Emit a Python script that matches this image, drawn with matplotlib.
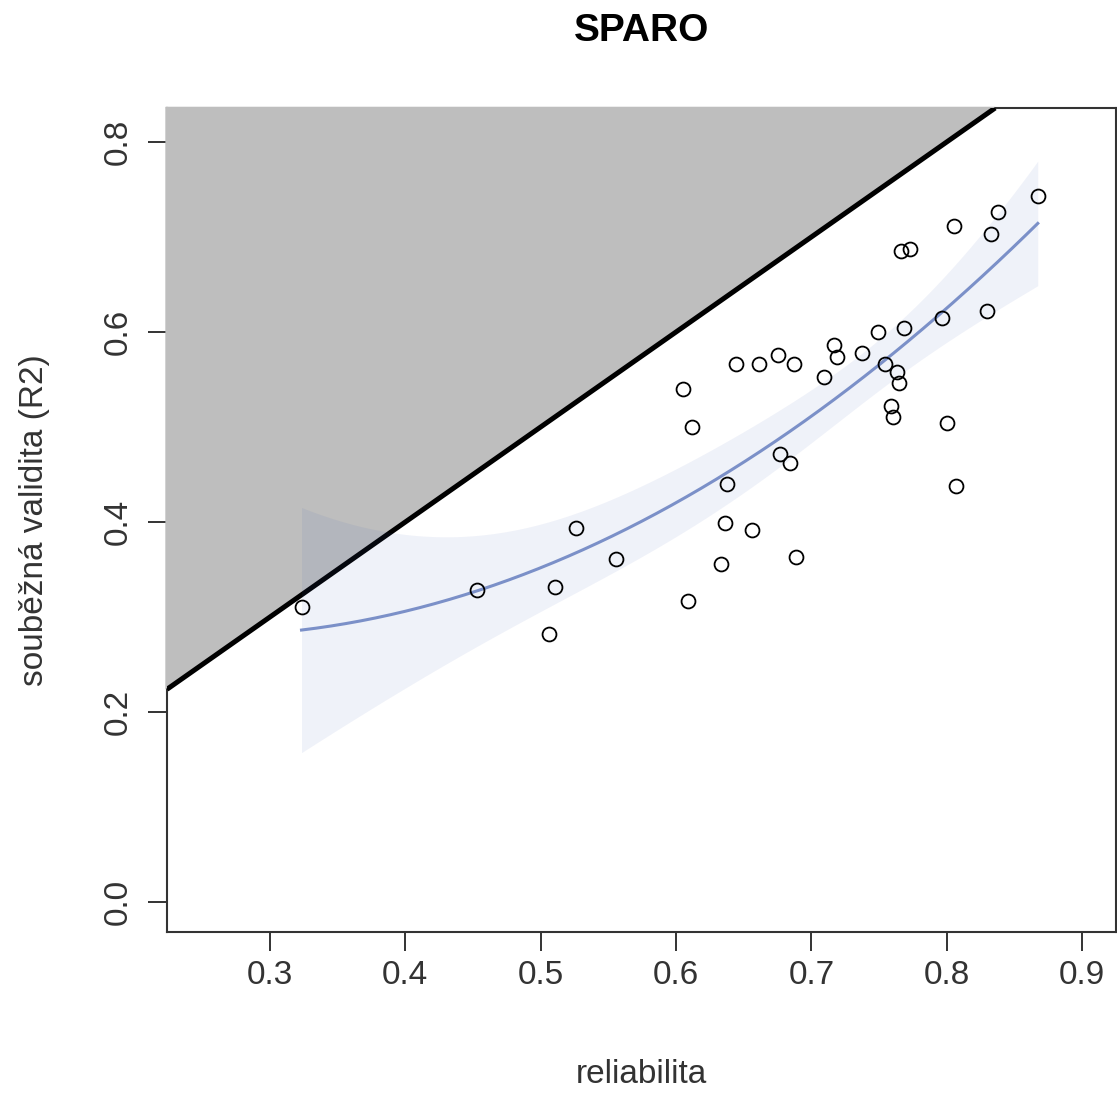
import numpy as np
import matplotlib
matplotlib.use('Agg')
import matplotlib.pyplot as plt

plt.rcParams['font.family'] = ['Liberation Sans', 'DejaVu Sans']

# Data (reliabilita vs. souběžná validita)
reliabilita = [0.3233, 0.4533, 0.5062, 0.5106, 0.5261, 0.5557, 0.6052, 0.6087,
               0.6115, 0.6333, 0.6362, 0.6377, 0.6440, 0.6562, 0.6613, 0.6752,
               0.6765, 0.6842, 0.6872, 0.6890, 0.7091, 0.7171, 0.7186, 0.7374,
               0.7493, 0.7544, 0.7587, 0.7601, 0.7631, 0.7648, 0.7663, 0.7729,
               0.7681, 0.7966, 0.8005, 0.8054, 0.8069, 0.8298, 0.8331, 0.8379,
               0.8673]
validita = [0.3105, 0.3279, 0.2816, 0.3319, 0.3940, 0.3611, 0.5400, 0.3172,
            0.5000, 0.3563, 0.3989, 0.4405, 0.5663, 0.3916, 0.5663, 0.5753,
            0.4716, 0.4624, 0.5663, 0.3632, 0.5529, 0.5863, 0.5732, 0.5779,
            0.5995, 0.5663, 0.5226, 0.5105, 0.5582, 0.5468, 0.6853, 0.6877,
            0.6042, 0.6147, 0.5045, 0.7121, 0.4384, 0.6216, 0.7032, 0.7258,
            0.7432]
x_ticks = [0.3, 0.4, 0.5, 0.6, 0.7, 0.8, 0.9]
y_ticks = [0.0, 0.2, 0.4, 0.6, 0.8]

x = np.array(reliabilita)
y = np.array(validita)

fig = plt.figure(figsize=(11.17, 10.93), dpi=100)
ax = fig.add_axes([0.1495, 0.1473, 0.8496, 0.7539])
xmin, xmax = 0.2239, 0.9251
ymin, ymax = -0.0316, 0.8358
ax.set_xlim(xmin, xmax)
ax.set_ylim(ymin, ymax)

# sedy trojuhelnik nad diagonalou (prekryva i ramecek)
e = 0.0012
ax.fill([xmin - e, ymax, xmin - e], [xmin, ymax + e, ymax + e], color='#bebebe',
        lw=0, zorder=3, clip_on=False)
ax.plot([xmin, ymax], [xmin, ymax], color='black', lw=3.6, zorder=4,
        solid_capstyle='butt')

# kvadraticky fit + 95% interval spolehlivosti
X = np.column_stack([np.ones_like(x), x, x ** 2])
beta, _, _, _ = np.linalg.lstsq(X, y, rcond=None)
resid = y - X @ beta
n = len(x)
s2 = resid @ resid / (n - 3)
cov = s2 * np.linalg.inv(X.T @ X)
xs = np.linspace(x.min(), x.max(), 200)
Xs = np.column_stack([np.ones_like(xs), xs, xs ** 2])
fit = Xs @ beta
se = np.sqrt(np.einsum('ij,jk,ik->i', Xs, cov, Xs))
t = 2.024
ax.fill_between(xs, fit - t * se, fit + t * se, color='#3c5ab4', alpha=0.08,
                lw=0, zorder=5)
ax.plot(xs, fit, color='#7b90c8', lw=2.2, zorder=6)

ax.plot(x, y, 'o', mfc='none', mec='black', ms=10, mew=1.3, zorder=7)

ax.set_xticks(x_ticks)
ax.set_xticklabels([f'{v:.1f}' for v in x_ticks])
ax.set_yticks(y_ticks)
ax.set_yticklabels([f'{v:.1f}' for v in y_ticks], rotation=90, va='center')
ax.tick_params(axis='both', length=14, width=1.4, labelsize=24, colors='#333333')
ax.tick_params(axis='x', pad=6)
ax.tick_params(axis='y', pad=10)
for sp in ax.spines.values():
    sp.set_linewidth(1.5)
    sp.set_color('#333333')

fig.text(0.574, 0.9716, 'SPARO', ha='center', va='center', fontsize=28,
         fontweight='bold')
fig.text(0.574, 0.0165, 'reliabilita', ha='center', va='center', fontsize=24,
         color='#333333')
fig.text(0.031, 0.524, 'souběžná validita (R2)', ha='center', va='center',
         rotation=90, fontsize=24, color='#333333')

fig.savefig('out.png', dpi=100)
